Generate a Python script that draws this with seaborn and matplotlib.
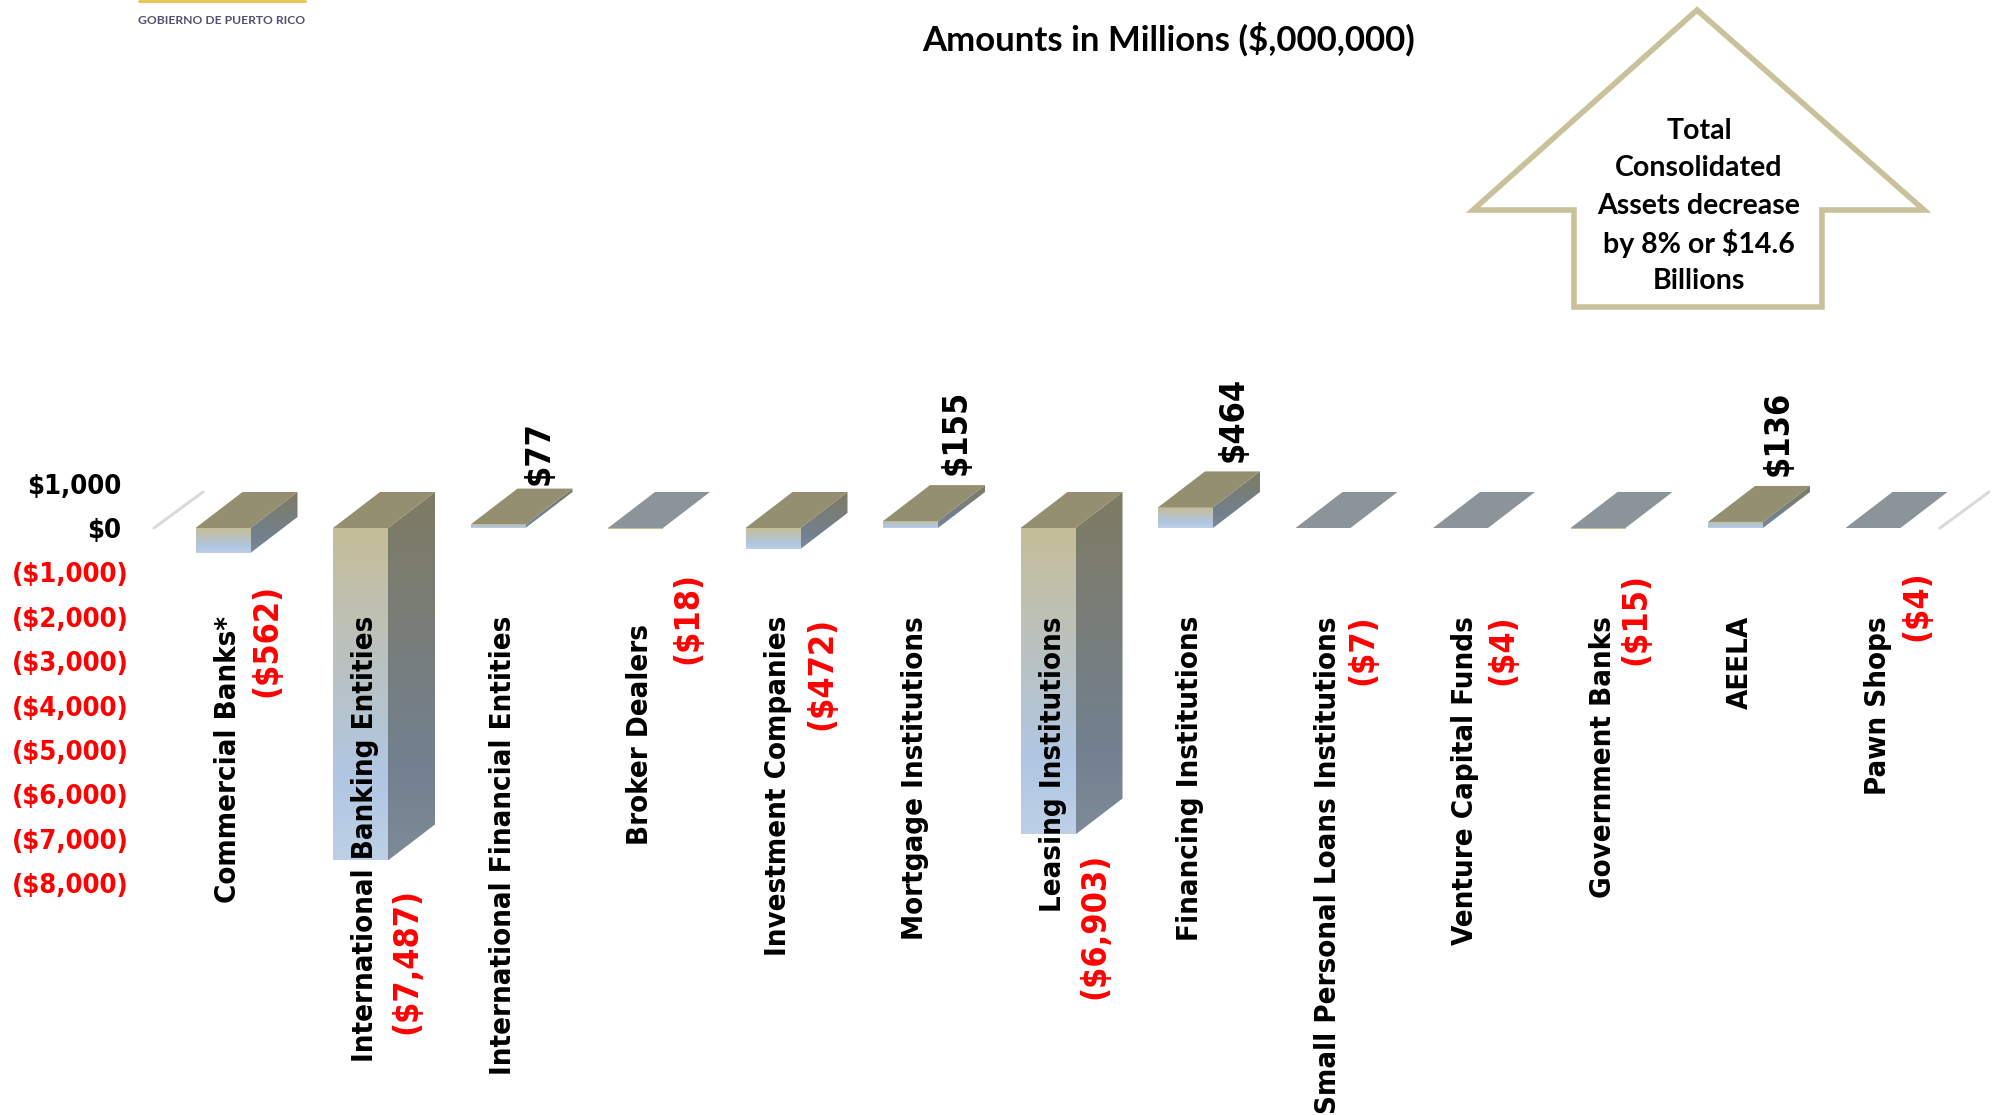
import numpy as np
import pandas as pd
import matplotlib
matplotlib.use("Agg")
import matplotlib.pyplot as plt
from matplotlib.patches import Polygon
from matplotlib.colors import LinearSegmentedColormap
from matplotlib.transforms import ScaledTranslation
from matplotlib.font_manager import FontProperties
import seaborn as sns

categories = ["Commercial Banks*", "International Banking Entities",
              "International Financial Entities", "Broker Dealers",
              "Investment Companies", "Mortgage Institutions",
              "Leasing Institutions", "Financing Institutions",
              "Small Personal Loans Institutions", "Venture Capital Funds",
              "Government Banks", "AEELA", "Pawn Shops"]
values = [-562, -7487, 77, -18, -472, 155, -6903, 464, -7, -4, -15, 136, -4]
value_labels = ["($562)", "($7,487)", "$77", "($18)", "($472)", "$155", "($6,903)",
                "$464", "($7)", "($4)", "($15)", "$136", "($4)"]
y_ticks = [1000, 0, -1000, -2000, -3000, -4000, -5000, -6000, -7000, -8000]
y_tick_labels = ["$1,000", "$0", "($1,000)", "($2,000)", "($3,000)", "($4,000)",
                 "($5,000)", "($6,000)", "($7,000)", "($8,000)"]
title = "Amounts in Millions ($,000,000)"
arrow_lines = ["Total", "Consolidated", "Assets decrease", "by 8% or $14.6", "Billions"]

# label positions in pixels (centre x, centre y)
label_x = [267, 407, 539, 688, 822, 956, 1095, 1233, 1363, 1503, 1636, 1778, 1917]
label_y = [640, 961, 453, 618, 673, 432, 926, 419, 650, 650, 619, 433, 606]
# extra shift of a category label down the page, in pixels
label_drop = [0, 0, 0, 7.5, 0, 0, 0, 0, 0, 0, 0, 0, 0]

W, H = 1995, 1115
PX_PER_1000 = 44.4
ZERO_Y = 528
LEFT = 152
STEP = 137.5
C0 = 223
DX = 47 / STEP        # depth offset in category units
DY = 36 / PX_PER_1000 * 1000  # depth offset in value units
BAR_W = 55 / STEP

sns.set_theme(style="white")
cond = dict(family="DejaVu Sans", stretch="condensed", weight="bold")

fig = plt.figure(figsize=(W / 100, H / 100), dpi=100, facecolor="white")
ax = fig.add_axes([LEFT / W, 0, 1 - LEFT / W, 1])
df = pd.DataFrame({"category": categories, "value": values})
sns.barplot(data=df, x="category", y="value", order=categories, width=BAR_W,
            color="#C5BD98", saturation=1, ax=ax, linewidth=0, zorder=1)
ax.set_xlim((LEFT - C0) / STEP, (W - C0) / STEP)
ax.set_ylim(-(H - ZERO_Y) / PX_PER_1000 * 1000, ZERO_Y / PX_PER_1000 * 1000)
ax.patch.set_alpha(0)
ax.set_xlabel("")
ax.set_ylabel("")
ax.set_axisbelow(False)
for s in ["top", "right", "left"]:
    ax.spines[s].set_visible(False)
ax.spines["bottom"].set_position(("data", -(618 - ZERO_Y - 2) / PX_PER_1000 * 1000))
ax.spines["bottom"].set_visible(False)
ax.set_xticks(range(len(categories)))
ax.set_xticklabels(categories, rotation=90, ha="center", va="top",
                   fontproperties=FontProperties(size=21.1, **cond), color="black")
ax.tick_params(axis="x", length=0, pad=0)
for lab, drop in zip(ax.get_xticklabels(), label_drop):
    lab.set_transform(lab.get_transform() + ScaledTranslation(4.5 / 100, -drop / 100, fig.dpi_scale_trans))
ax.set_yticks(y_ticks)
ax.set_yticklabels(y_tick_labels, fontproperties=FontProperties(size=19.6, **cond))
ax.tick_params(axis="y", length=0)
for t, v in zip(ax.yaxis.get_major_ticks(), y_ticks):
    t.set_pad((LEFT - (121 if v >= 0 else 129)) * 0.72)
    t.label1.set_color("black" if v >= 0 else "#FF0000")

front = LinearSegmentedColormap.from_list("f", [(0, "#C5BD98"), (0.75, "#B0C6E3"), (1, "#BDD0E6")])
side = LinearSegmentedColormap.from_list("s", [(0, "#7F7B63"), (0.75, "#72808F"), (1, "#7E8A98")])
grad = np.linspace(0, 1, 256).reshape(-1, 1)

def grad_poly(pts, cmap, z=2):
    p = Polygon(pts, closed=True, transform=ax.transData, fc="none", ec="none")
    ax.add_patch(p)
    xs, ys = zip(*pts)
    im = ax.imshow(grad, cmap=cmap, vmin=0, vmax=1, aspect="auto", origin="upper",
                   extent=[min(xs), max(xs), min(ys), max(ys)], zorder=z,
                   interpolation="bilinear")
    im.set_clip_path(p)

for i, v in enumerate(values):
    l, r = i - BAR_W / 2, i + BAR_W / 2
    hi, lo = max(v, 0), min(v, 0)
    if abs(v) < 30:
        ax.add_patch(Polygon([(l, 0), (r, 0), (r + DX, DY), (l + DX, DY)],
                             fc="#8B9499", ec="none", zorder=2.2))
        continue
    grad_poly([(l, hi), (r, hi), (r, lo), (l, lo)], front)
    grad_poly([(r, hi), (r + DX, hi + DY), (r + DX, lo + DY), (r, lo)], side)
    ax.add_patch(Polygon([(l, hi), (r, hi), (r + DX, hi + DY), (l + DX, hi + DY)],
                         fc="#948F70", ec="none", zorder=2.2))
ax.set_xlim((LEFT - C0) / STEP, (W - C0) / STEP)
ax.set_ylim(-(H - ZERO_Y) / PX_PER_1000 * 1000, ZERO_Y / PX_PER_1000 * 1000)

def fx(x): return x / W
def fy(y): return 1 - y / H

# floor edge stubs
for x0 in [154, 1940]:
    fig.add_artist(plt.Line2D([fx(x0), fx(x0 + 49)], [fy(528), fy(492)], color="#DADADA", lw=2.2))

for s, v, x, y in zip(value_labels, values, label_x, label_y):
    fig.text(fx(x), fy(y), s, rotation=90, ha="center", va="center",
             fontproperties=FontProperties(size=24.5, **cond),
             color="black" if v > 0 else "#FF0000")

fig.text(fx(1169), fy(39), title, ha="center", va="center", fontsize=25,
         fontweight="bold", family="Lato", color="black")

# arrow
pts = [(1697, 10), (1924, 210), (1822, 210), (1822, 307), (1574, 307), (1574, 210), (1473, 210)]
fig.add_artist(Polygon([(fx(x), fy(y)) for x, y in pts], closed=True, transform=fig.transFigure,
                       fc="white", ec="#C8C19B", lw=4, joinstyle="miter"))
for s, y in zip(arrow_lines, [131, 168, 206, 244, 281]):
    fig.text(fx(1699), fy(y), s, ha="center", va="center", fontsize=20.5, fontweight="bold",
             family="Lato", color="black", zorder=5)

# logo fragment
fig.add_artist(plt.Line2D([fx(139), fx(305)], [fy(0.5), fy(0.5)], color="#E8C34F", lw=2))
fig.text(fx(222), fy(21), "GOBIERNO DE PUERTO RICO", ha="center", va="center", fontsize=8.7,
         fontweight="bold", family="Lato", color="#4E5170")

fig.savefig("out.png", dpi=100, facecolor="white")
